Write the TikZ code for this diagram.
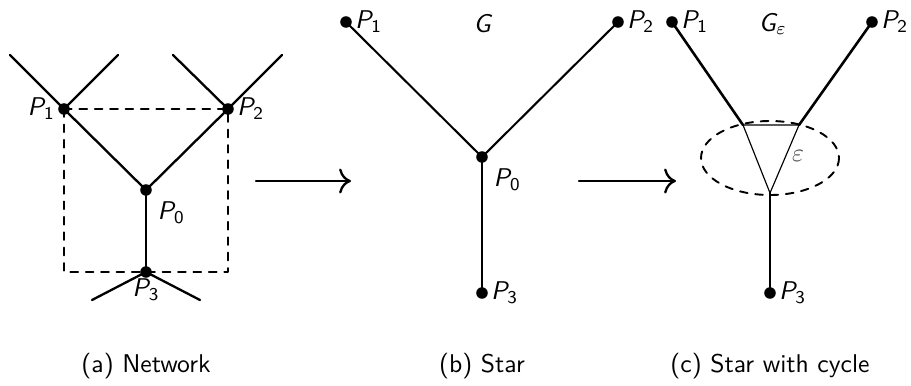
\documentclass[tikz,border=0pt]{standalone}
\usepackage{amsmath}
\usetikzlibrary{arrows.meta}
\newcommand{\ptlabel}[2]{$\textsl{#1}_{\textsf{#2}}$}
\tikzset{
  vertex/.style={circle, fill, inner sep=0pt, minimum size=4.5pt},
  edge/.style={line width=0.9pt},
  thinedge/.style={line width=0.45pt},
  caption/.style={font=\sffamily},
}
\begin{document}
\begin{tikzpicture}[x=0.39pt, y=-0.39pt, line cap=round, line join=round, >={To[scale=1.3]}, font=\sffamily]
  \useasboundingbox (0,0) rectangle (911,385);

  % (a) network
  \node[vertex] (a1) at (64,109) {};
  \node[vertex] (a2) at (228,109) {};
  \node[vertex] (a0) at (146,190) {};
  \node[vertex] (a3) at (146,272) {};
  \coordinate (a1l) at (10,55);  \coordinate (a1r) at (118,55);
  \coordinate (a2l) at (173,55); \coordinate (a2r) at (282,55);
  \coordinate (a3l) at (92,300); \coordinate (a3r) at (200,300);
  \draw[dashed, line width=0.75pt] (a1.center) -- (a2.center) -- (a2.center |- a3.center) -- (a1.center |- a3.center) -- cycle;
  \draw[edge] (a1l) -- (a1.center) -- (a0.center) -- (a2.center) -- (a2r);
  \draw[edge] (a1.center) -- (a1r);
  \draw[edge] (a2.center) -- (a2l);
  \draw[edge] (a0.center) -- (a3.center);
  \draw[edge] (a3l) -- (a3.center) -- (a3r);
  \node[left=0pt] at (a1) {\ptlabel{P}{1}};
  \node[right=0pt] at (a2) {\ptlabel{P}{2}};
  \node[below right=1pt] at (a0) {\ptlabel{P}{0}};
  \node[below=-1pt] at (a3) {\ptlabel{P}{3}};

  % arrows
  \coordinate (ar1s) at (256,181); \coordinate (ar1e) at (351,181);
  \coordinate (ar2s) at (579,181); \coordinate (ar2e) at (676,181);
  \draw[edge, ->] (ar1s) -- (ar1e);
  \draw[edge, ->] (ar2s) -- (ar2e);

  % (b) star
  \node[vertex] (b1) at (346,22) {};
  \node[vertex] (b2) at (618,22) {};
  \node[vertex] (b0) at (482,157) {};
  \node[vertex] (b3) at (482,293) {};
  \draw[line width=0.8pt] (b1.center) -- (b0.center) -- (b2.center);
  \draw[line width=0.8pt] (b0.center) -- (b3.center);
  \node[right=0pt] at (b1) {\ptlabel{P}{1}};
  \node[right=0pt] at (b2) {\ptlabel{P}{2}};
  \node[below right=1pt] at (b0) {\ptlabel{P}{0}};
  \node[right=0pt] at (b3) {\ptlabel{P}{3}};
  \node at (483,24) {\textsl{G}};

  % (c) star with cycle
  \node[vertex] (c1) at (672,22) {};
  \node[vertex] (c2) at (872,22) {};
  \node[vertex] (c3) at (770,293) {};
  \coordinate (t1) at (743,125);
  \coordinate (t2) at (799,125);
  \coordinate (t0) at (770,193);
  \draw[dashed, line width=0.75pt] (770,158) ellipse [x radius=69, y radius=37];
  \draw[edge, line width=1pt] (c1.center) -- (t1);
  \draw[edge, line width=1pt] (c2.center) -- (t2);
  \draw[edge, line width=1pt] (t0) -- (c3.center);
  \draw[thinedge] (t1) -- (t2) -- (t0) -- cycle;
  \node[right=0pt] at (c1) {\ptlabel{P}{1}};
  \node[right=0pt] at (c2) {\ptlabel{P}{2}};
  \node[right=0pt] at (c3) {\ptlabel{P}{3}};
  \node at (773,24) {$\textsl{G}_{\varepsilon}$};
  \node[text=black!70] at (798,156) {$\varepsilon$};

  % captions
  \node[caption] (capa) at (146,366) {(a) Network};
  \node[caption] (capb) at (482,366) {(b) Star};
  \node[caption] (capc) at (770,366) {(c) Star with cycle};
\end{tikzpicture}
\end{document}
